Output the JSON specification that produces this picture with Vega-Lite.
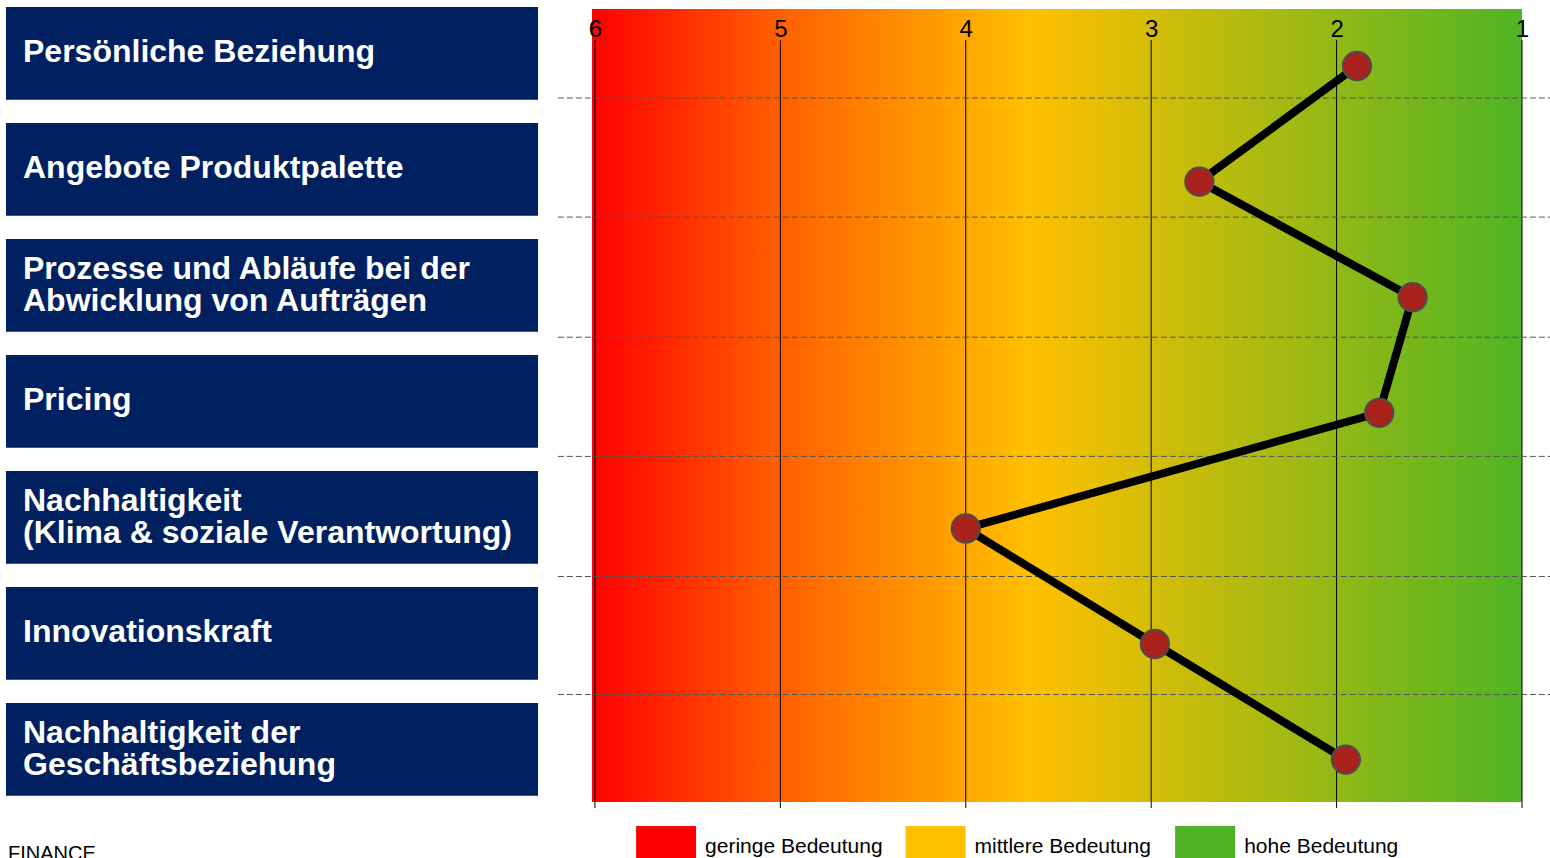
{
  "$schema": "https://vega.github.io/schema/vega-lite/v6.json",
  "padding": {"left": 6, "top": 0, "right": 0, "bottom": 0},
  "background": "white",
  "config": {
    "view": {"stroke": null},
    "font": "Liberation Sans"
  },
  "datasets": {
    "themen": [
      {"rang": 1, "thema": "Persönliche Beziehung", "note": 1.89},
      {"rang": 2, "thema": "Angebote Produktpalette", "note": 2.74},
      {"rang": 3, "thema": "Prozesse und Abläufe bei der\nAbwicklung von Aufträgen", "note": 1.59},
      {"rang": 4, "thema": "Pricing", "note": 1.77},
      {"rang": 5, "thema": "Nachhaltigkeit\n(Klima & soziale Verantwortung)", "note": 4.0},
      {"rang": 6, "thema": "Innovationskraft", "note": 2.98},
      {"rang": 7, "thema": "Nachhaltigkeit der\nGeschäftsbeziehung", "note": 1.95}
    ],
    "grenzen": [
      {"grenze": 1.277}, {"grenze": 2.307}, {"grenze": 3.346},
      {"grenze": 4.377}, {"grenze": 5.416}, {"grenze": 6.437}
    ],
    "skala": [
      {"wert": 6}, {"wert": 5}, {"wert": 4}, {"wert": 3}, {"wert": 2}, {"wert": 1}
    ],
    "stufen": [
      {"stufe": "geringe Bedeutung"},
      {"stufe": "mittlere Bedeutung"},
      {"stufe": "hohe Bedeutung"}
    ]
  },
  "spacing": 0,
  "vconcat": [
    {
      "spacing": 18,
      "hconcat": [
        {
          "width": 532,
          "height": 818,
          "data": {"name": "themen"},
          "encoding": {
            "y": {
              "field": "thema",
              "type": "nominal",
              "sort": {"field": "rang", "op": "min"},
              "scale": {"paddingInner": 0.2, "paddingOuter": 0.126, "align": 0.24},
              "axis": null
            },
            "x": {"datum": 0, "type": "quantitative", "scale": {"domain": [0, 1]}, "axis": null}
          },
          "layer": [
            {
              "mark": {"type": "rect", "color": "#002060"},
              "encoding": {"x2": {"datum": 1}}
            },
            {
              "transform": [{"filter": "indexof(datum.thema, '\\n') < 0"}],
              "mark": {
                "type": "text",
                "align": "left",
                "baseline": "middle",
                "dx": 17,
                "dy": -1,
                "fontSize": 32,
                "fontWeight": "bold",
                "color": "white"
              },
              "encoding": {"text": {"field": "thema"}}
            },
            {
              "transform": [{"filter": "indexof(datum.thema, '\\n') >= 0"}],
              "mark": {
                "type": "text",
                "align": "left",
                "baseline": "middle",
                "dx": 17,
                "dy": -16,
                "fontSize": 32,
                "fontWeight": "bold",
                "color": "white",
                "lineBreak": "\n",
                "lineHeight": 32
              },
              "encoding": {"text": {"field": "thema"}}
            }
          ]
        },
        {
          "width": 994,
          "height": 818,
          "layer": [
            {
              "data": {"values": [{}]},
              "mark": {
                "type": "rect",
                "fill": {
                  "gradient": "linear",
                  "x1": 0, "y1": 0, "x2": 1, "y2": 0,
                  "stops": [
                    {"offset": 0, "color": "#ff0000"},
                    {"offset": 0.2, "color": "#ff5f00"},
                    {"offset": 0.47, "color": "#ffc000"},
                    {"offset": 1, "color": "#4fb424"}
                  ]
                }
              },
              "encoding": {
                "x": {
                  "datum": 6.016,
                  "type": "quantitative",
                  "scale": {"domain": [0.849, 6.21], "reverse": true, "nice": false, "zero": false},
                  "axis": {
                    "orient": "top",
                    "values": [6, 5, 4, 3, 2, 1],
                    "format": "d",
                    "offset": -41,
                    "zindex": 1,
                    "domain": false,
                    "ticks": false,
                    "grid": false,
                    "labelFlush": false,
                    "labelFontSize": 24,
                    "labelPadding": 0,
                    "labelColor": "black",
                    "labelFont": "Liberation Sans",
                    "title": null
                  }
                },
                "x2": {"datum": 1},
                "y": {
                  "datum": 0.507,
                  "type": "quantitative",
                  "scale": {"domain": [0.429, 7.505], "reverse": true, "nice": false, "zero": false},
                  "axis": null
                },
                "y2": {"datum": 7.367}
              }
            },
            {
              "data": {"name": "skala"},
              "mark": {"type": "rule", "color": "black", "strokeWidth": 1},
              "encoding": {
                "x": {"field": "wert", "type": "quantitative"},
                "y": {"datum": 0.775, "type": "quantitative"},
                "y2": {"datum": 7.419}
              }
            },
            {
              "data": {"name": "grenzen"},
              "mark": {"type": "rule", "color": "#555555", "strokeWidth": 1, "strokeDash": [6, 3]},
              "encoding": {
                "y": {"field": "grenze", "type": "quantitative"},
                "x": {"datum": 6.2, "type": "quantitative"},
                "x2": {"datum": 0.849}
              }
            },
            {
              "data": {"name": "themen"},
              "mark": {"type": "line", "color": "black", "strokeWidth": 8},
              "encoding": {
                "x": {"field": "note", "type": "quantitative"},
                "y": {"field": "rang", "type": "quantitative"},
                "order": {"field": "rang"}
              }
            },
            {
              "data": {"name": "themen"},
              "mark": {
                "type": "point",
                "filled": true,
                "size": 800,
                "fill": "#a9221b",
                "stroke": "#4d4d4d",
                "strokeWidth": 2,
                "opacity": 1
              },
              "encoding": {
                "x": {"field": "note", "type": "quantitative"},
                "y": {"field": "rang", "type": "quantitative"}
              }
            }
          ]
        }
      ]
    },
    {
      "spacing": 18,
      "hconcat": [
        {
          "width": 532,
          "height": 48,
          "data": {"values": [{"t": "FINANCE"}]},
          "mark": {
            "type": "text",
            "align": "left",
            "baseline": "middle",
            "fontSize": 20,
            "dx": 2,
            "dy": 12,
            "color": "black"
          },
          "encoding": {
            "x": {"datum": 0, "type": "quantitative", "scale": {"domain": [0, 1]}, "axis": null},
            "text": {"field": "t"}
          }
        },
        {
          "width": 994,
          "height": 48,
          "data": {"name": "stufen"},
          "encoding": {
            "x": {
              "field": "stufe",
              "type": "nominal",
              "sort": null,
              "scale": {"type": "point", "padding": 0.844, "align": 0.242},
              "axis": null
            }
          },
          "layer": [
            {
              "mark": {
                "type": "point",
                "shape": "M-1,-0.533H1V0.533H-1Z",
                "size": 3600,
                "filled": true,
                "opacity": 1,
                "strokeWidth": 0
              },
              "encoding": {
                "color": {
                  "field": "stufe",
                  "type": "nominal",
                  "sort": null,
                  "scale": {
                    "domain": ["geringe Bedeutung", "mittlere Bedeutung", "hohe Bedeutung"],
                    "range": ["#ff0000", "#ffc000", "#4fb424"]
                  },
                  "legend": null
                }
              }
            },
            {
              "mark": {
                "type": "text",
                "align": "left",
                "baseline": "middle",
                "dx": 39,
                "dy": 5,
                "fontSize": 21,
                "color": "black"
              },
              "encoding": {"text": {"field": "stufe"}}
            }
          ]
        }
      ]
    }
  ]
}
